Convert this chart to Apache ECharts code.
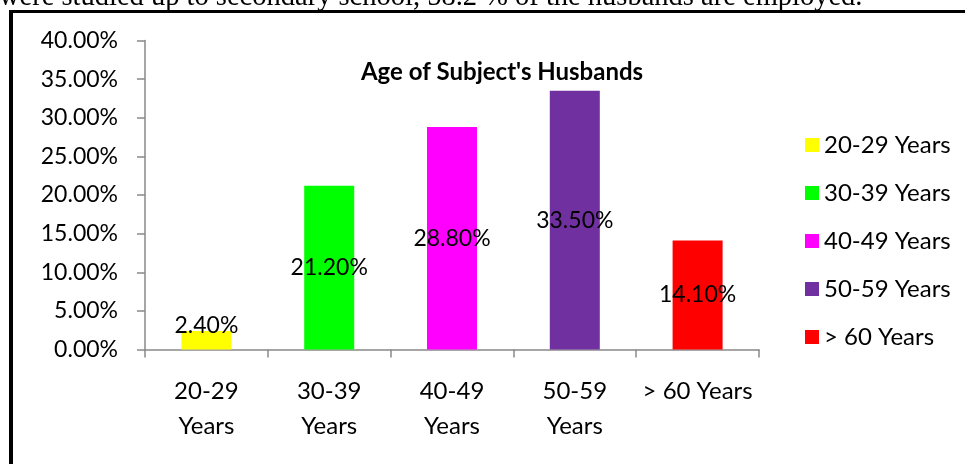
<!DOCTYPE html>
<html>
<head>
<meta charset="utf-8">
<script src="https://cdn.jsdelivr.net/npm/echarts@6/dist/echarts.min.js"></script>
<style>
html,body{margin:0;padding:0;background:#fff;}
#chart{width:965px;height:464px;}
</style>
</head>
<body>
<div id="chart"></div>
<script>
var categories = ['20-29 Years', '30-39 Years', '40-49 Years', '50-59 Years', '> 60 Years'];
var axisLabels = ['20-29\nYears', '30-39\nYears', '40-49\nYears', '50-59\nYears', '> 60 Years'];
var values = [2.4, 21.2, 28.8, 33.5, 14.1];
var colors = ['#FFFF00', '#00FF00', '#FF00FF', '#7030A0', '#FF0000'];
var yTicks = {min: 0, max: 40, interval: 5};
var titleText = "Age of Subject's Husbands";
var captionText = 'were studied up to secondary school, 58.2 % of the husbands are employed.';

var FONT = 'Lato';
var chart = echarts.init(document.getElementById('chart'));

var series = categories.map(function (name, i) {
  var d = categories.map(function (c, j) { return j === i ? values[i] : '-'; });
  return {
    name: name,
    type: 'bar',
    stack: 'all',
    barWidth: 50,
    data: d,
    itemStyle: {color: colors[i]},
    label: {
      show: true,
      position: i === 0 ? 'top' : 'inside',
      distance: -6,
      color: '#000',
      fontFamily: FONT,
      fontSize: 23,
      formatter: function (p) { return p.value.toFixed(2) + '%'; }
    }
  };
});

chart.setOption({
  animation: false,
  backgroundColor: '#fff',
  title: {
    text: titleText,
    left: 497,
    textAlign: 'center',
    top: 55,
    textStyle: {fontFamily: FONT, fontWeight: 'bold', fontSize: 24, color: '#000'}
  },
  legend: {
    orient: 'vertical',
    left: 800,
    top: 128,
    itemWidth: 14,
    itemHeight: 14,
    itemGap: 24,
    icon: 'rect',
    data: categories,
    textStyle: {fontFamily: FONT, fontSize: 24, color: '#000', lineHeight: 22}
  },
  grid: {left: 145, right: 206, top: 40.5, bottom: 114.5, containLabel: false},
  xAxis: {
    type: 'category',
    data: axisLabels,
    axisLine: {lineStyle: {color: '#898989', width: 1.5}},
    axisTick: {show: true, length: 8, lineStyle: {color: '#898989', width: 1.5}},
    axisLabel: {fontFamily: FONT, fontSize: 24, color: '#000', lineHeight: 35, margin: 24, interval: 0}
  },
  yAxis: {
    type: 'value',
    min: yTicks.min,
    max: yTicks.max,
    interval: yTicks.interval,
    splitLine: {show: false},
    axisLine: {show: true, lineStyle: {color: '#898989', width: 1.5}},
    axisTick: {show: true, length: 8, lineStyle: {color: '#898989', width: 1.5}},
    axisLabel: {fontFamily: FONT, fontSize: 23, color: '#000', margin: 27,
      formatter: function (v) { return v.toFixed(2) + '%'; }}
  },
  graphic: [
    {type: 'rect', shape: {x: 9, y: 10, width: 970, height: 3}, style: {fill: '#000'}},
    {type: 'rect', shape: {x: 9, y: 10, width: 4, height: 470}, style: {fill: '#000'}},
    {type: 'text', x: -1, y: 12, style: {text: captionText, font: '28.5px "Liberation Serif"', fill: '#000', verticalAlign: 'bottom'}}
  ],
  series: series
});
</script>
</body>
</html>
